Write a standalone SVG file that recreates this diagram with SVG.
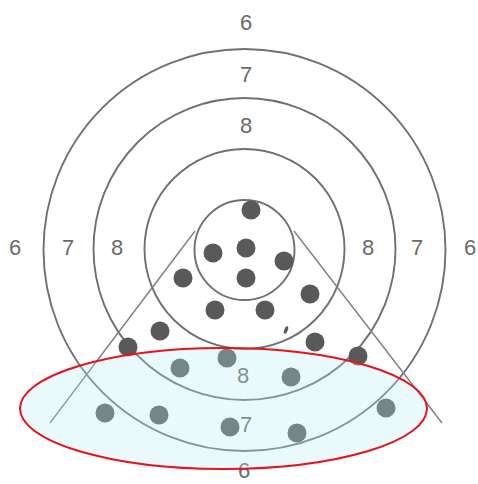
<svg xmlns="http://www.w3.org/2000/svg" width="478" height="484" viewBox="0 0 478 484">
<style>
.ring{fill:none;stroke:#707070;stroke-width:1.9}
.ln{stroke:#7f7f7f;stroke-width:1.4;fill:none}
.lbl{font-family:"Liberation Sans",Arial,sans-serif;font-size:22px;fill:#6a6a6a;text-anchor:middle}
.dot{fill:#595959}
</style>
<rect width="478" height="484" fill="#ffffff"/>
<g id="rings">
<circle class="ring" cx="244.5" cy="250" r="50"/>
<circle class="ring" cx="244.5" cy="249" r="100"/>
<circle class="ring" cx="244.5" cy="249" r="151"/>
<circle class="ring" cx="244.5" cy="250" r="201"/>
</g>
<g id="connectors">
<line class="ln" x1="195" y1="231" x2="50" y2="423"/>
<line class="ln" x1="294" y1="231" x2="442" y2="423"/>
</g>
<g id="labels">
<text class="lbl" x="246" y="30">6</text>
<text class="lbl" x="246" y="82">7</text>
<text class="lbl" x="246" y="133">8</text>
<text class="lbl" x="15" y="255">6</text>
<text class="lbl" x="68" y="255">7</text>
<text class="lbl" x="117" y="255">8</text>
<text class="lbl" x="368" y="255">8</text>
<text class="lbl" x="417" y="255">7</text>
<text class="lbl" x="470" y="255">6</text>
<text class="lbl" x="243" y="383">8</text>
<text class="lbl" x="246" y="432">7</text>
<text class="lbl" x="244" y="478">6</text>
</g>
<g id="shots">
<circle class="dot" cx="251" cy="210" r="9.5"/>
<circle class="dot" cx="213" cy="253" r="9.5"/>
<circle class="dot" cx="246" cy="248" r="9.5"/>
<circle class="dot" cx="284" cy="261" r="9.5"/>
<circle class="dot" cx="246" cy="278" r="9.5"/>
<circle class="dot" cx="183" cy="278" r="9.5"/>
<circle class="dot" cx="310" cy="294" r="9.5"/>
<circle class="dot" cx="215" cy="310" r="9.5"/>
<circle class="dot" cx="265" cy="310" r="9.5"/>
<circle class="dot" cx="160" cy="331" r="9.5"/>
<circle class="dot" cx="128" cy="347" r="9.5"/>
<circle class="dot" cx="315" cy="342" r="9.5"/>
<circle class="dot" cx="358" cy="356" r="9.5"/>
<ellipse class="dot" cx="286" cy="330" rx="1.8" ry="4" transform="rotate(20 286 330)"/>
<circle class="dot" cx="227" cy="358" r="9.5"/>
<circle class="dot" cx="180" cy="368" r="9.5"/>
<circle class="dot" cx="291" cy="377" r="9.5"/>
<circle class="dot" cx="105" cy="413" r="9.5"/>
<circle class="dot" cx="159" cy="415" r="9.5"/>
<circle class="dot" cx="230" cy="427" r="9.5"/>
<circle class="dot" cx="297" cy="433" r="9.5"/>
<circle class="dot" cx="386" cy="408" r="9.5"/>
</g>
<g id="highlight">
<ellipse cx="223.5" cy="408.5" rx="203.5" ry="60.5" fill="#b8eef6" fill-opacity="0.3" stroke="#e8121b" stroke-width="2"/>
</g>
</svg>
